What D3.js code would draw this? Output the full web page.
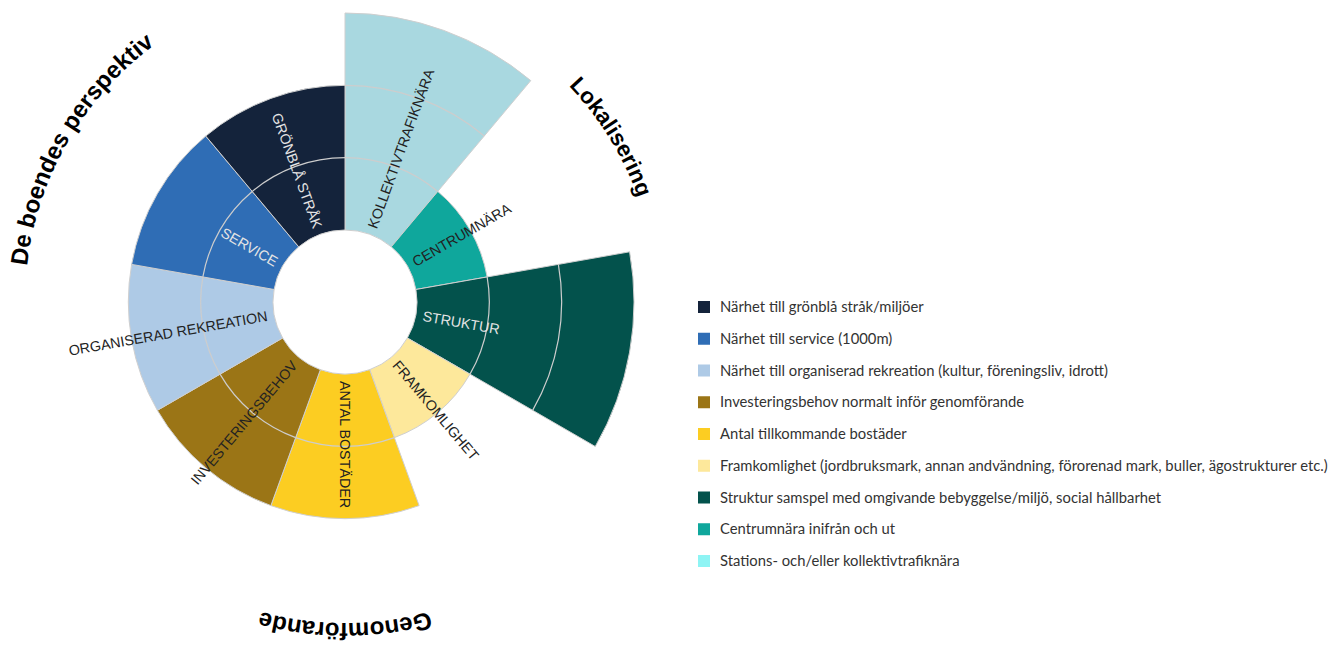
<!DOCTYPE html>
<html>
<head>
<meta charset="utf-8">
<script src="https://cdn.jsdelivr.net/npm/d3@7"></script>
<style>
  body { margin: 0; background: #fff; }
  svg { display: block; }
</style>
</head>
<body>
<div id="chart"></div>
<script>
// segments, clockwise from 12 o'clock
const categories = ["KOLLEKTIVTRAFIKNÄRA", "CENTRUMNÄRA", "STRUKTUR", "FRAMKOMLIGHET",
  "ANTAL BOSTÄDER", "INVESTERINGSBEHOV", "ORGANISERAD REKREATION", "SERVICE", "GRÖNBLÅ STRÅK"];
const values = [3, 1, 3, 1, 2, 2, 2, 2, 2];
const ticks = [1, 2];

const groups = ["Lokalisering", "Genomförande", "De boendes perspektiv"];
const groupMembers = [
  ["KOLLEKTIVTRAFIKNÄRA", "CENTRUMNÄRA", "STRUKTUR"],
  ["FRAMKOMLIGHET", "ANTAL BOSTÄDER", "INVESTERINGSBEHOV"],
  ["ORGANISERAD REKREATION", "SERVICE", "GRÖNBLÅ STRÅK"]
];

const legendLabels = [
  "Närhet till grönblå stråk/miljöer",
  "Närhet till service (1000m)",
  "Närhet till organiserad rekreation (kultur, föreningsliv, idrott)",
  "Investeringsbehov normalt inför genomförande",
  "Antal tillkommande bostäder",
  "Framkomlighet (jordbruksmark, annan andvändning, förorenad mark, buller, ägostrukturer etc.)",
  "Struktur samspel med omgivande bebyggelse/miljö, social hållbarhet",
  "Centrumnära inifrån och ut",
  "Stations- och/eller kollektivtrafiknära"
];

// colours
const segColors = ["#a9d8e0", "#0fa79c", "#03524c", "#fde89b", "#fccd22",
  "#9b7516", "#aecae6", "#2f6db5", "#14233b"];
const labelColors = ["#222", "#222", "#e4e4e4", "#222", "#222",
  "#222", "#222", "#e4e4e4", "#e4e4e4"];
const legendColors = ["#14233b", "#2f6db5", "#aecae6", "#9b7516", "#fccd22",
  "#fde89b", "#03524c", "#0fa79c", "#8ef4f4"];

let width = 1339, height = 646;
let cx = 345, cy = 302;

let svg = d3.select("#chart")
  .append("svg")
  .attr("width", width)
  .attr("height", height);

const g = svg.append("g")
  .attr("transform", `translate(${cx},${cy})`);

const angle = d3.scaleBand()
  .domain(categories)
  .range([0, 2 * Math.PI]);

const radius = d3.scaleLinear()
  .domain([0, 3])
  .range([72, 289]);

const data = categories.map((c, i) => ({ name: c, value: values[i], i: i }));

const arc = d3.arc()
  .innerRadius(radius(0))
  .outerRadius(d => radius(d.value))
  .startAngle(d => angle(d.name))
  .endAngle(d => angle(d.name) + angle.bandwidth());

g.selectAll("path.seg")
  .data(data)
  .enter()
  .append("path")
  .attr("class", "seg")
  .attr("d", arc)
  .attr("fill", d => segColors[d.i])
  .attr("stroke", "#cfcfcf")
  .attr("stroke-width", 1);

// grid rings, only inside each segment
const ringData = [];
data.forEach(d => {
  ticks.filter(t => t < d.value).forEach(t => ringData.push({ d: d, t: t }));
});

g.selectAll("path.ring")
  .data(ringData)
  .enter()
  .append("path")
  .attr("class", "ring")
  .attr("d", r => {
    const p = d3.path();
    const a0 = angle(r.d.name) - Math.PI / 2;
    p.arc(0, 0, radius(r.t), a0, a0 + angle.bandwidth());
    return p.toString();
  })
  .attr("fill", "none")
  .attr("stroke", "#cdcdcd")
  .attr("stroke-width", 1.2);

// segment labels
const midDeg = d => (angle(d.name) + angle.bandwidth() / 2) * 180 / Math.PI;

g.selectAll("text.lab")
  .data(data)
  .enter()
  .append("text")
  .attr("class", "lab")
  .attr("transform", d => {
    const a = midDeg(d);
    const flip = a <= 180 ? 0 : 180;
    return `rotate(${a - 90}) translate(${radius(0) + 7},0) rotate(${flip})`;
  })
  .attr("text-anchor", d => midDeg(d) <= 180 ? "start" : "end")
  .attr("dy", "0.36em")
  .attr("font-family", "'Liberation Sans', Arial, sans-serif")
  .attr("font-size", 14.3)
  .attr("fill", d => labelColors[d.i])
  .text(d => d.name);

// group titles on arcs
const titleR = [311, 321, 320];
const titleSize = [22.5, 24, 24];
const titleOffset = ["48.5%", "50%", "50%"];
groups.forEach((name, k) => {
  const mem = groupMembers[k];
  const a0 = angle(mem[0]) - Math.PI / 2;
  const a1 = angle(mem[mem.length - 1]) + angle.bandwidth() - Math.PI / 2;
  const p = d3.path();
  p.arc(0, 0, titleR[k], a0, a1);
  g.append("path")
    .attr("id", "grp" + k)
    .attr("d", p.toString())
    .attr("fill", "none");
  g.append("text")
    .attr("font-family", "'Liberation Sans', Arial, sans-serif")
    .attr("font-weight", "bold")
    .attr("font-size", titleSize[k])
    .attr("fill", "#000")
    .append("textPath")
    .attr("href", "#grp" + k)
    .attr("startOffset", titleOffset[k])
    .attr("text-anchor", "middle")
    .text(name);
});

// legend
const legendY = d3.scalePoint()
  .domain(legendLabels)
  .range([307, 561]);

const legend = svg.append("g")
  .attr("class", "legend");

const item = legend.selectAll("g")
  .data(legendLabels)
  .enter()
  .append("g")
  .attr("transform", d => `translate(698,${legendY(d)})`);

item.append("rect")
  .attr("x", 0)
  .attr("y", -6)
  .attr("width", 12)
  .attr("height", 12)
  .attr("fill", (d, i) => legendColors[i]);

item.append("text")
  .attr("x", 22)
  .attr("dy", "0.35em")
  .attr("font-family", "Lato, sans-serif")
  .attr("font-size", 14.8)
  .attr("fill", "#333")
  .text(d => d);
</script>
</body>
</html>
